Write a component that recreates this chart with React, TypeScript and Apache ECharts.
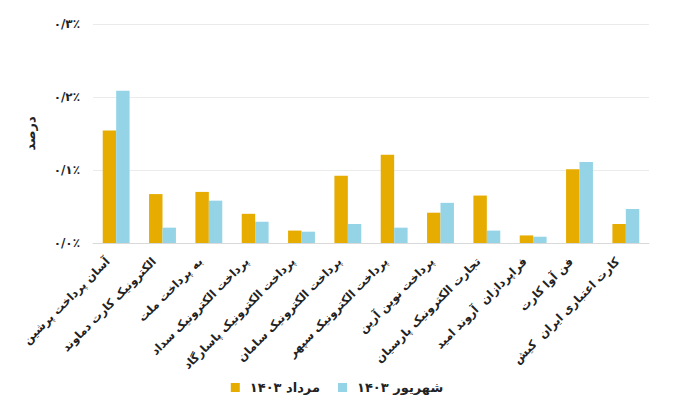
import React, { useEffect, useRef } from "react";
import * as echarts from "echarts";

const categories = [
  "آسان پرداخت پرشین",
  "الکترونیک کارت دماوند",
  "به پرداخت ملت",
  "پرداخت الکترونیک سداد",
  "پرداخت الکترونیک پاسارگاد",
  "پرداخت الکترونیک سامان",
  "پرداخت الکترونیک سپهر",
  "پرداخت نوین آرین",
  "تجارت الکترونیک پارسیان",
  "فراپردازان  آروند امید",
  "فن آوا کارت",
  "کارت اعتباری ایران  کیش",
];

const mordad = [0.154, 0.067, 0.07, 0.04, 0.017, 0.092, 0.121, 0.0415, 0.065, 0.0104, 0.101, 0.026];
const shahrivar = [0.2086, 0.021, 0.058, 0.029, 0.0155, 0.026, 0.021, 0.055, 0.017, 0.0086, 0.111, 0.0466];

const seriesNames = ["مرداد ۱۴۰۳", "شهریور ۱۴۰۳"];
const yTickLabels = ["۰/۰٪", "۰/۱٪", "۰/۲٪", "۰/۳٪"];
const yAxisName = "درصد";

const FONT = "'DejaVu Sans', sans-serif";

export default function App() {
  const ref = useRef<HTMLDivElement>(null);
  useEffect(() => {
    document.body.style.margin = "0";
    if (!ref.current) return;
    const chart = echarts.init(ref.current, undefined, { renderer: "svg" });
    chart.setOption({
      animation: false,
      textStyle: { fontFamily: FONT },
      grid: { left: 93, right: 25, top: 24, bottom: 170 },
      legend: {
        bottom: 14,
        left: "center",
        itemWidth: 9,
        itemHeight: 9,
        itemGap: 18,
        icon: "rect",
        data: seriesNames,
        textStyle: { fontFamily: FONT, fontSize: 13, fontWeight: "bold", color: "#222", padding: [0, 0, 0, 5] },
      },
      xAxis: {
        type: "category",
        data: categories,
        axisTick: { show: false },
        axisLine: { lineStyle: { color: "#d9d9d9" } },
        axisLabel: {
          rotate: 45,
          interval: 0,
          margin: 8,
          padding: [0, 12, 0, 0],
          fontFamily: FONT,
          fontSize: 11.5,
          fontWeight: "bold",
          color: "#222",
        },
      },
      yAxis: {
        type: "value",
        min: 0,
        max: 0.3,
        interval: 0.1,
        name: yAxisName,
        nameLocation: "middle",
        nameGap: 56,
        nameRotate: 90,
        nameTextStyle: { fontFamily: FONT, fontSize: 13, fontWeight: "bold", color: "#222" },
        axisLine: { show: false },
        axisTick: { show: false },
        splitLine: { lineStyle: { color: "#ebebeb" } },
        axisLabel: {
          margin: 13,
          fontFamily: FONT,
          fontSize: 12,
          fontWeight: "bold",
          color: "#222",
          formatter: (v: number) => yTickLabels[Math.round(v * 10)] ?? "",
        },
      },
      series: [
        {
          name: seriesNames[0],
          type: "bar",
          data: mordad,
          itemStyle: { color: "#E6AC00" },
          barGap: "0%",
          barCategoryGap: "42%",
        },
        {
          name: seriesNames[1],
          type: "bar",
          data: shahrivar,
          itemStyle: { color: "#94D4E6" },
          barGap: "0%",
          barCategoryGap: "42%",
        },
      ],
    });
    return () => chart.dispose();
  }, []);
  return <div ref={ref} style={{ width: 674, height: 413 }} />;
}
